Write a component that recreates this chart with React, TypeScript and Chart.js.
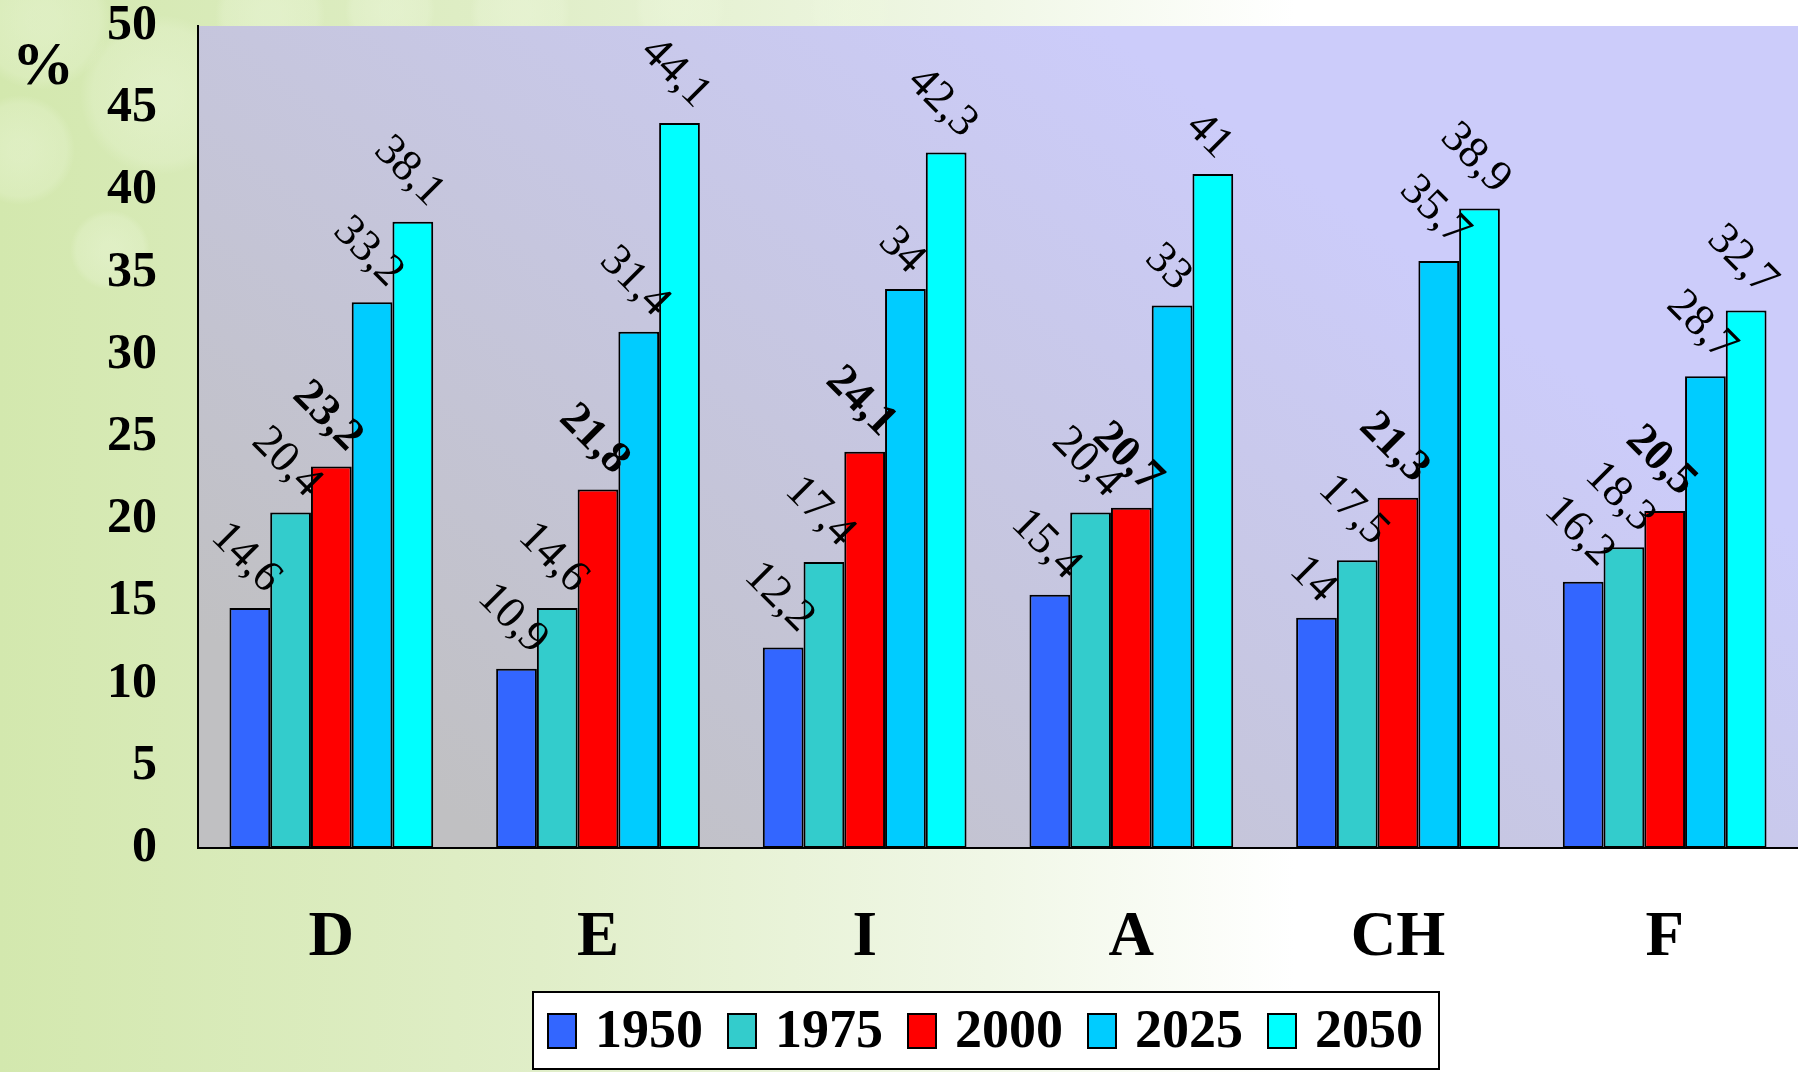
import React, { useEffect, useRef } from "react";
import { Chart, registerables } from "chart.js";

Chart.register(...registerables);

// Countries and series
const countries = ["D", "E", "I", "A", "CH", "F"];
const years = ["1950", "1975", "2000", "2025", "2050"];
const colors = ["#3366FF", "#33CCCC", "#FF0000", "#00CCFF", "#00FFFF"];

const v1950 = [14.6, 10.9, 12.2, 15.4, 14, 16.2];
const v1975 = [20.4, 14.6, 17.4, 20.4, 17.5, 18.3];
const v2000 = [23.2, 21.8, 24.1, 20.7, 21.3, 20.5];
const v2025 = [33.2, 31.4, 34, 33, 35.7, 28.7];
const v2050 = [38.1, 44.1, 42.3, 41, 38.9, 32.7];

const seriesValues = [v1950, v1975, v2000, v2025, v2050];
const boldSeries = [false, false, true, false, false];

const yTicks = [0, 5, 10, 15, 20, 25, 30, 35, 40, 45, 50];

const W = 1798;
const H = 1072;
const SERIF = "'Liberation Serif', 'Times New Roman', serif";
const LABEL_SIZE = 45;

const fmt = (v: number) => String(v).replace(".", ",");

// Page backdrop and plot-area gradient
const backdropPlugin = {
  id: "backdrop",
  beforeDraw(chart: any) {
    const { ctx, chartArea } = chart;
    ctx.save();
    const g = ctx.createLinearGradient(0, 0, W, 0);
    g.addColorStop(0, "#d3e8ae");
    g.addColorStop(0.3, "#e0eec8");
    g.addColorStop(0.55, "#f0f7e6");
    g.addColorStop(0.72, "#ffffff");
    g.addColorStop(1, "#ffffff");
    ctx.fillStyle = g;
    ctx.fillRect(0, 0, W, H);

    // soft light spots in the upper-left corner
    const spots = [
      [40, 20, 70],
      [160, 95, 80],
      [20, 150, 55],
      [270, 15, 55],
      [390, 10, 45],
      [520, 12, 50],
      [680, 8, 45],
      [110, 250, 40],
      [850, 10, 40],
    ];
    for (const [x, y, r] of spots) {
      const rg = ctx.createRadialGradient(x, y, r * 0.2, x, y, r);
      rg.addColorStop(0, "rgba(238,248,222,0.4)");
      rg.addColorStop(0.8, "rgba(238,248,222,0.25)");
      rg.addColorStop(1, "rgba(238,248,222,0)");
      ctx.fillStyle = rg;
      ctx.beginPath();
      ctx.arc(x, y, r, 0, Math.PI * 2);
      ctx.fill();
    }

    const { left, top, right, bottom } = chartArea;
    const pg = ctx.createLinearGradient(left + 300, bottom, left + 900, top);
    pg.addColorStop(0, "#c0c0c2");
    pg.addColorStop(1, "#ccccfa");
    ctx.fillStyle = pg;
    ctx.fillRect(left, top, right - left, bottom - top);
    ctx.restore();
  },
};

// Value labels turned 45°, their rotated box resting just above each bar
const valueLabelPlugin = {
  id: "valueLabels",
  afterDatasetsDraw(chart: any) {
    const { ctx } = chart;
    const k = Math.SQRT1_2;
    ctx.save();
    ctx.fillStyle = "#000";
    ctx.textAlign = "center";
    ctx.textBaseline = "middle";
    chart.data.datasets.forEach((ds: any, di: number) => {
      const meta = chart.getDatasetMeta(di);
      ctx.font = `${boldSeries[di] ? "bold " : ""}${LABEL_SIZE}px ${SERIF}`;
      meta.data.forEach((bar: any, i: number) => {
        const text = fmt(ds.data[i]);
        const len = ctx.measureText(text).width;
        const lineH = LABEL_SIZE * 1.15;
        const lift = ((len + lineH) * k) / 2 + 4;
        ctx.save();
        ctx.translate(bar.x - 4, bar.y - lift);
        ctx.rotate(Math.PI / 4);
        ctx.fillText(text, 0, 0);
        ctx.restore();
      });
    });
    ctx.restore();
  },
};

// Unit label and boxed legend
const legendPlugin = {
  id: "boxedLegend",
  afterDraw(chart: any) {
    const { ctx } = chart;
    ctx.save();
    ctx.fillStyle = "#000";
    ctx.font = `bold 62px ${SERIF}`;
    ctx.textAlign = "center";
    ctx.textBaseline = "middle";
    ctx.fillText("%", 43, 68);

    const bx = 533, by = 992, bw = 906, bh = 77;
    ctx.fillStyle = "#ffffff";
    ctx.fillRect(bx, by, bw, bh);
    ctx.strokeStyle = "#000";
    ctx.lineWidth = 2;
    ctx.strokeRect(bx, by, bw, bh);

    ctx.font = `bold 54px ${SERIF}`;
    ctx.textAlign = "left";
    years.forEach((y, i) => {
      const sx = 548 + i * 180;
      ctx.fillStyle = colors[i];
      ctx.fillRect(sx, 1014, 28, 34);
      ctx.strokeStyle = "#000";
      ctx.lineWidth = 2;
      ctx.strokeRect(sx, 1014, 28, 34);
      ctx.fillStyle = "#000";
      ctx.fillText(y, sx + 47, 1033);
    });
    ctx.restore();
  },
};

export default function App() {
  const canvasRef = useRef<HTMLCanvasElement | null>(null);

  useEffect(() => {
    document.body.style.margin = "0";
    const canvas = canvasRef.current;
    if (!canvas) return;

    const chart = new Chart(canvas, {
      type: "bar",
      data: {
        labels: countries,
        datasets: years.map((y, i) => ({
          label: y,
          data: seriesValues[i],
          backgroundColor: colors[i],
          borderColor: "#000",
          borderWidth: 2,
          borderSkipped: false,
          categoryPercentage: 0.764,
          barPercentage: 1,
        })),
      },
      options: {
        responsive: false,
        animation: false,
        devicePixelRatio: 1,
        layout: { padding: { top: 26, left: 0, right: -4, bottom: 0 } },
        plugins: {
          legend: { display: false },
          tooltip: { enabled: false },
        },
        scales: {
          x: {
            grid: { display: false },
            border: { display: true, color: "#000", width: 2 },
            ticks: {
              color: "#000",
              font: { family: SERIF, size: 63, weight: "bold", lineHeight: 1 },
              padding: 51,
            },
            afterFit: (s: any) => {
              s.height = H - 848;
              s.paddingLeft = 0;
              s.paddingRight = 0;
            },
          },
          y: {
            min: 0,
            max: 50,
            afterBuildTicks: (s: any) => {
              s.ticks = yTicks.map((v) => ({ value: v }));
            },
            grid: { display: false },
            border: { display: true, color: "#000", width: 2 },
            ticks: {
              color: "#000",
              font: { family: SERIF, size: 50, weight: "bold", lineHeight: 1 },
              padding: 33,
            },
            afterFit: (s: any) => {
              s.width = 198;
              s.paddingTop = 0;
              s.paddingBottom = 0;
            },
          },
        },
      },
      plugins: [backdropPlugin, valueLabelPlugin, legendPlugin],
    });

    return () => chart.destroy();
  }, []);

  return (
    <div style={{ width: W, height: H, position: "relative" }}>
      <canvas ref={canvasRef} width={W} height={H} style={{ display: "block" }} />
    </div>
  );
}
